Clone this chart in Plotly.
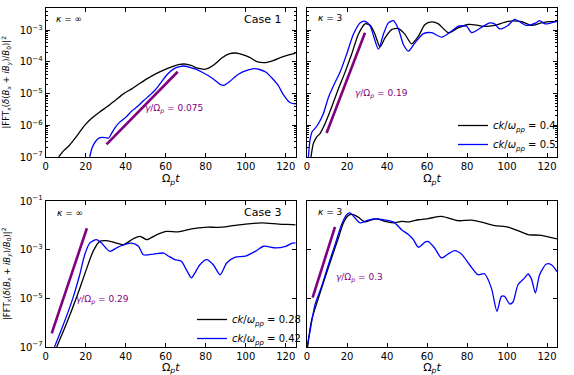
import plotly.graph_objects as go

# ---- data (log10 of |FFT|^2) ----
# Case 1, kappa = inf
c1i_t_a = [6.5, 9, 12, 16, 19.5, 23, 27, 31, 35, 39, 43, 47, 51, 55, 59, 63, 67, 70, 73, 76, 80,
           84, 88, 92, 95, 98, 102, 106, 110, 114, 118, 122, 125]
c1i_y_a = [-7.0, -6.8, -6.62, -6.3, -6.0, -5.78, -5.58, -5.4, -5.2, -5.0, -4.85, -4.68, -4.52, -4.38,
           -4.26, -4.16, -4.08, -4.07, -4.12, -4.2, -4.23, -4.1, -3.88, -3.74, -3.72, -3.76, -3.86,
           -4.0, -4.02, -3.95, -3.85, -3.77, -3.72]
c1i_t_b = [22, 23, 24, 26, 28, 30, 31.5, 33, 35, 37, 40, 43, 46, 49, 52, 55, 58, 61, 64, 67, 69, 72,
           75, 78, 81, 84, 87, 89, 92, 95, 98, 101, 104, 107, 110, 113, 116, 119, 122, 125]
c1i_y_b = [-7.0, -6.75, -6.6, -6.43, -6.38, -6.39, -6.4, -6.25, -6.05, -5.9, -5.75, -5.55, -5.4,
           -5.22, -5.05, -4.87, -4.62, -4.38, -4.22, -4.15, -4.13, -4.17, -4.23, -4.32, -4.42, -4.55,
           -4.70, -4.74, -4.62, -4.45, -4.33, -4.26, -4.21, -4.24, -4.32, -4.5, -4.72, -5.05, -5.28,
           -5.33]
c1i_fit_t = [30.4, 66.0]
c1i_fit_y = [-6.60, -4.31]

# Case 1, kappa = 3
c1k_t_a = [2.0, 3.2, 4.8, 6.5, 9, 12.3, 15.7, 19, 22.3, 25.7, 29, 31.5, 34, 36.5, 39, 42.3, 45.7, 49,
           52.3, 55.7, 59, 62.3, 65.7, 70.7, 75.5, 80.7, 85.7, 88.8, 93.8, 100.5, 107.2, 112.2,
           117.2, 121, 125]
c1k_y_a = [-7.0, -6.57, -6.37, -6.26, -5.95, -5.43, -4.85, -4.33, -3.76, -3.13, -2.80, -2.84, -3.13,
           -3.53, -3.24, -2.98, -2.95, -3.13, -3.43, -3.19, -2.82, -2.74, -2.80, -3.08, -2.93, -2.82,
           -2.85, -2.88, -2.85, -2.72, -2.73, -2.85, -2.77, -2.73, -2.72]
c1k_t_b = [0.7, 1.5, 2.5, 4, 5.7, 8.2, 10.7, 14, 16.5, 19.8, 23.2, 26.5, 29, 31.5, 35.7, 38.2, 40.7,
           43.2, 45.7, 48.2, 50.7, 54, 58.2, 62.3, 67.3, 72.3, 75.7, 79.8, 82.3, 88, 91.3, 93.8,
           96.3, 100.5, 103.8, 107.2, 109.7, 114.5, 116.3, 119, 125]
c1k_y_b = [-7.0, -6.47, -6.21, -6.10, -5.95, -5.63, -5.12, -4.65, -4.33, -3.76, -3.13, -2.77, -2.72,
           -2.86, -3.60, -3.13, -2.77, -2.70, -2.96, -3.45, -3.66, -3.40, -3.11, -3.08, -3.22, -3.03,
           -2.875, -2.875, -3.08, -2.88, -2.77, -2.80, -2.96, -2.85, -2.66, -2.77, -2.85, -2.77,
           -2.70, -2.80, -2.72]
c1k_fit_t = [9.8, 29.0]
c1k_fit_y = [-6.24, -3.08]

# Case 3, kappa = inf
c3i_t_a = [5.5, 10.2, 15.3, 20.3, 23.7, 27, 30.4, 35.4, 38.8, 43.8, 47.2, 50.6, 55.6, 60.6, 66.2,
           72.9, 79.6, 86.3, 91.4, 99.8, 108.2, 116.6, 123.3, 125]
c3i_y_a = [-7.0, -6.08, -4.99, -3.82, -3.07, -2.66, -2.63, -2.73, -2.80, -2.55, -2.45, -2.59, -2.38,
           -2.25, -2.27, -2.15, -2.08, -2.08, -2.04, -1.95, -1.90, -1.95, -1.97, -1.98]
c3i_t_b = [4.4, 8.5, 13.6, 17, 19.5, 22, 25.4, 27.9, 32.1, 35.4, 38.8, 43, 46.4, 48.9, 53.9, 59,
           61.5, 64.5, 67.8, 70.5, 72.9, 75, 77.1, 80.4, 83.8, 87.2, 90.5, 94.8, 99.8, 104.8, 109,
           114.9, 120, 123.3, 125]
c3i_y_b = [-7.0, -6.15, -4.99, -4.03, -3.21, -2.73, -2.59, -2.73, -3.07, -2.93, -2.80, -2.73, -2.86,
           -3.21, -3.18, -3.14, -3.27, -3.41, -3.48, -3.85, -4.16, -3.90, -3.62, -3.41, -3.62, -4.03,
           -3.55, -3.31, -3.27, -3.07, -2.86, -2.93, -2.86, -2.73, -2.72]
c3i_fit_t = [3.0, 20.6]
c3i_fit_y = [-6.44, -2.12]

# Case 3, kappa = 3
c3k_t_a = [0.3, 2.3, 5.7, 9, 12.3, 15.7, 18.2, 20.7, 23.2, 25.7, 29, 32.3, 35.7, 39, 43.2, 47.3,
           50.7, 55.7, 60.7, 67.2, 75.5, 82.2, 88.8, 93.8, 100.5, 105.5, 110.5, 117.2, 125]
c3k_y_a = [-7.0, -5.9, -4.99, -4.16, -3.34, -2.52, -1.90, -1.59, -1.56, -1.67, -1.86, -1.77, -1.74,
           -1.84, -1.90, -1.84, -1.86, -1.77, -1.72, -1.63, -1.81, -1.79, -1.90, -2.01, -2.07, -2.22,
           -2.38, -2.41, -2.56]
c3k_t_b = [0, 1.5, 4, 7.3, 10.7, 14, 17.3, 19.8, 21.5, 24, 26.5, 29.8, 33.2, 38.2, 43.2, 47.3, 50.7,
           53.2, 55.7, 59, 60.5, 63.8, 67.2, 70.5, 73.8, 77.2, 81.3, 85.5, 88.8, 92.2, 95, 97.2,
           98.8, 101.3, 103, 105.5, 108.8, 110.5, 112.2, 114.2, 116.3, 119.7, 122.2, 125]
c3k_y_b = [-7.0, -6.36, -5.26, -4.51, -3.62, -2.80, -1.97, -1.56, -1.49, -1.70, -1.90, -1.81, -1.74,
           -1.77, -1.86, -2.18, -2.38, -2.59, -2.90, -2.69, -2.66, -2.93, -3.34, -3.18, -3.04, -3.18,
           -3.62, -4.03, -3.99, -4.58, -5.53, -4.92, -4.92, -5.23, -5.15, -4.44, -4.16, -4.0, -4.2,
           -4.78, -4.03, -3.59, -3.62, -3.90]
c3k_fit_t = [2.8, 14.0]
c3k_fit_y = [-4.97, -2.06]

legend_top = ["0.4", "0.5"]
legend_bot = ["0.28", "0.42"]
gammas = ["0.075", "0.19", "0.29", "0.3"]

BLACK = "#000000"
BLUE = "#0000ff"
PURPLE = "#800080"
FONT = "DejaVu Sans"


def pw(v):
    return [10 ** x for x in v]


def ck_label(v):
    return "<i>ck</i>/<i>ω<sub>pp</sub></i> = " + v


fig = go.Figure()

panels = [
    ("x", "y", c1i_t_a, c1i_y_a, c1i_t_b, c1i_y_b, c1i_fit_t, c1i_fit_y, None, None),
    ("x2", "y2", c1k_t_a, c1k_y_a, c1k_t_b, c1k_y_b, c1k_fit_t, c1k_fit_y, "legend", legend_top),
    ("x3", "y3", c3i_t_a, c3i_y_a, c3i_t_b, c3i_y_b, c3i_fit_t, c3i_fit_y, "legend2", legend_bot),
    ("x4", "y4", c3k_t_a, c3k_y_a, c3k_t_b, c3k_y_b, c3k_fit_t, c3k_fit_y, None, None),
]

for xa, ya, ta, ya_vals, tb, yb, ft, fy, leg, labs in panels:
    show = leg is not None
    fig.add_trace(go.Scatter(x=ta, y=pw(ya_vals), xaxis=xa, yaxis=ya, mode="lines",
                             line=dict(color=BLACK, width=1.3, shape="spline", smoothing=0.7),
                             name=ck_label(labs[0]) if show else "black", showlegend=show,
                             legend=leg if show else "legend"))
    fig.add_trace(go.Scatter(x=tb, y=pw(yb), xaxis=xa, yaxis=ya, mode="lines",
                             line=dict(color=BLUE, width=1.3, shape="spline", smoothing=0.7),
                             name=ck_label(labs[1]) if show else "blue", showlegend=show,
                             legend=leg if show else "legend"))
    fig.add_trace(go.Scatter(x=ft, y=pw(fy), xaxis=xa, yaxis=ya, mode="lines", name="fit",
                             line=dict(color=PURPLE, width=2.6), showlegend=False))

W, H = 574, 375
xd_l = [45.7 / W, 295.7 / W]
xd_r = [307 / W, 557 / W]
yd_t = [1 - 157 / H, 1 - 8 / H]
yd_b = [1 - 347 / H, 1 - 201 / H]

sup = {-1: "−1", -2: "−2", -3: "−3", -4: "−4", -5: "−5", -6: "−6", -7: "−7"}

top_major = [-7, -6, -5, -4, -3]
top_minor = [m * 10 ** e for e in range(-8, -2) for m in range(2, 10)]
bot_major = [-7, -5, -3, -1]

axcommon = dict(showline=True, linecolor="black", linewidth=1, mirror="ticks", ticks="inside",
                ticklen=4, tickwidth=1, tickcolor="black", showgrid=False, zeroline=False,
                automargin=False, tickfont=dict(family=FONT, size=10, color="black"))


def xaxis(domain, anchor):
    return dict(axcommon, domain=domain, anchor=anchor, range=[0, 125],
                tickvals=[0, 20, 40, 60, 80, 100, 120],
                title=dict(text="Ω<sub><i>p</i></sub><i>t</i>", standoff=3,
                           font=dict(family=FONT, size=11, color="black")))


def yaxis(domain, anchor, top, labels):
    if top:
        rng = [-7, -2.3]
        tv = [10 ** e for e in top_major]
        tt = ["10<sup>" + sup[e] + "</sup>" for e in top_major]
        minor = dict(ticks="inside", ticklen=2, tickcolor="black", tickvals=top_minor)
    else:
        rng = [-7, -1]
        tv = [10 ** e for e in bot_major]
        tt = ["10<sup>" + sup[e] + "</sup>" for e in bot_major]
        minor = None
    d = dict(axcommon, domain=domain, anchor=anchor, type="log", range=rng,
             tickvals=tv, ticktext=tt, showticklabels=labels)
    if minor:
        d["minor"] = minor
    return d


fig.update_layout(
    width=W, height=H, margin=dict(l=0, r=0, t=0, b=0, autoexpand=False),
    paper_bgcolor="white", plot_bgcolor="white",
    font=dict(family=FONT, size=10, color="black"),
    xaxis=xaxis(xd_l, "y"), yaxis=yaxis(yd_t, "x", True, True),
    xaxis2=xaxis(xd_r, "y2"), yaxis2=yaxis(yd_t, "x2", True, False),
    xaxis3=xaxis(xd_l, "y3"), yaxis3=yaxis(yd_b, "x3", False, True),
    xaxis4=xaxis(xd_r, "y4"), yaxis4=yaxis(yd_b, "x4", False, False),
    legend=dict(x=453 / W, y=1 - 111 / H, xanchor="left", yanchor="top", bgcolor="rgba(0,0,0,0)",
                font=dict(family=FONT, size=10, color="black")),
    legend2=dict(x=192 / W, y=1 - 305 / H, xanchor="left", yanchor="top", bgcolor="rgba(0,0,0,0)",
                 font=dict(family=FONT, size=10, color="black")),
)

ylab = "|FFT<sub>x</sub>(<i>δ</i>(<i>B<sub>x</sub></i> + <i>iB<sub>y</sub></i>)/<i>B</i><sub>0</sub>)|<sup>2</sup>"
for yc in [(yd_t[0] + yd_t[1]) / 2, (yd_b[0] + yd_b[1]) / 2]:
    fig.add_annotation(text=ylab, xref="paper", yref="paper", x=6 / W, y=yc, textangle=-90,
                       xanchor="center", yanchor="middle", showarrow=False,
                       font=dict(family=FONT, size=8.5, color="black"))

notes = [
    ("x", "y", 0.093, 0.926, "<i>κ</i> = ∞", 9, BLACK),
    ("x", "y", 0.866, 0.92, "Case 1", 11, BLACK),
    ("x", "y", 0.515, 0.322, "<i>γ</i>/Ω<sub><i>p</i></sub> = " + gammas[0], 9, PURPLE),
    ("x2", "y2", 0.092, 0.933, "<i>κ</i> = 3", 9, BLACK),
    ("x2", "y2", 0.296, 0.423, "<i>γ</i>/Ω<sub><i>p</i></sub> = " + gammas[1], 9, PURPLE),
    ("x3", "y3", 0.097, 0.918, "<i>κ</i> = ∞", 9, BLACK),
    ("x3", "y3", 0.866, 0.918, "Case 3", 11, BLACK),
    ("x3", "y3", 0.228, 0.322, "<i>γ</i>/Ω<sub><i>p</i></sub> = " + gammas[2], 9, PURPLE),
    ("x4", "y4", 0.092, 0.925, "<i>κ</i> = 3", 9, BLACK),
    ("x4", "y4", 0.208, 0.473, "<i>γ</i>/Ω<sub><i>p</i></sub> = " + gammas[3], 9, PURPLE),
]
for xa, ya, xx, yy, txt, sz, col in notes:
    fig.add_annotation(text=txt, xref=xa + " domain", yref=ya + " domain", x=xx, y=yy,
                       xanchor="center", yanchor="middle", showarrow=False,
                       font=dict(family=FONT, size=sz, color=col))

# the page's default body margin would shift the figure by 8px
fig.write_html("out.html", config={"displayModeBar": False},
               post_script="document.body.style.margin='0';")
